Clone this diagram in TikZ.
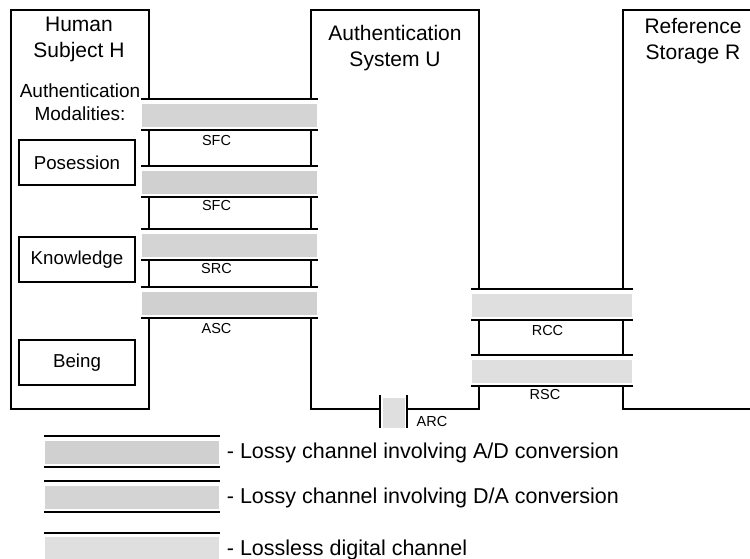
\documentclass[tikz,border=0pt]{standalone}
\usepackage{fontspec}
\setmainfont{Liberation Sans}
\usetikzlibrary{positioning}
\definecolor{adgray}{RGB}{208,208,208}
\definecolor{dagray}{RGB}{212,212,212}
\definecolor{llgray}{RGB}{223,223,223}
% channel: left end, right end, top line, fill colour
\newcommand{\channel}[4]{%
  \fill[#4] (#1+1,#3+5) rectangle (#2-1,#3+28);
  \draw (#1,#3) -- (#2,#3);
  \draw (#1,#3+31) -- (#2,#3+31);
}
\tikzset{
  headtext/.style={font=\fontsize{21}{26}\selectfont, align=center, inner sep=0pt, anchor=north},
  modtext/.style={font=\fontsize{19}{23}\selectfont, align=center, inner sep=0pt, anchor=north},
  modbox/.style={draw, minimum width=116pt, minimum height=45pt, inner sep=0pt, font=\fontsize{18.7}{22}\selectfont},
  chanlabel/.style={font=\fontsize{14.5}{17}\selectfont, inner sep=0pt},
  legendtext/.style={font=\fontsize{21.5}{25}\selectfont, inner sep=0pt, anchor=base west}
}

\begin{document}
\begin{tikzpicture}[x=1pt, y=-1pt, line width=1.8pt]
\useasboundingbox (0,0) rectangle (750,559);

% human subject H
\draw (149,99) -- (149,10) -- (11,10) -- (11,409) -- (149,409) -- (149,318);
\draw (149,130) -- (149,166);
\draw (149,197) -- (149,229);
\draw (149,260) -- (149,287);
\node[headtext] (hhead) at (79,16.5) {Human\\Subject H};
\node[modtext] (hmod) at (80,83) {Authentication\\Modalities:};
\node[modbox] (poss) at (77,162.5) {Posession};
\node[modbox] (know) at (77,259.5) {Knowledge};
\node[modbox] (being) at (77,362.5) {Being};

% authentication system U
\draw (311,99) -- (311,10) -- (479,10) -- (479,289);
\draw (311,130) -- (311,166);
\draw (311,197) -- (311,229);
\draw (311,260) -- (311,287);
\draw (479,321) -- (479,355);
\draw (311,318) -- (311,409) -- (380,409);
\draw (407,409) -- (479,409) -- (479,386);
\node[headtext] (uhead) at (395,24) {Authentication\\System U};

% reference storage R
\draw (750,10) -- (623,10) -- (623,289);
\draw (623,321) -- (623,355);
\draw (623,386) -- (623,409) -- (750,409);
\node[headtext] (rhead) at (693,17) {Reference\\Storage R};

% channels H - U
\channel{141}{318}{99}{dagray}
\channel{141}{318}{166}{adgray}
\channel{141}{318}{229}{dagray}
\channel{141}{318}{287}{adgray}
\node[chanlabel] (sfc1) at (216.5,140.5) {SFC};
\node[chanlabel] (sfc2) at (216.5,205.5) {SFC};
\node[chanlabel] (src) at (216.5,269) {SRC};
\node[chanlabel] (asc) at (216.5,329) {ASC};

% channels U - R
\channel{471}{633}{289}{llgray}
\channel{471}{633}{355}{llgray}
\node[chanlabel] (rcc) at (547.5,330.5) {RCC};
\node[chanlabel] (rsc) at (545,394.5) {RSC};

% ARC
\fill[llgray] (383,398) rectangle (405,428);
\draw (380,395) -- (380,428);
\draw (407,395) -- (407,428);
\node[chanlabel] (arc) at (432,422) {ARC};

% legend
\channel{44}{220}{436}{adgray}
\channel{44}{220}{481}{dagray}
\fill[llgray] (45,537) rectangle (219,559);
\draw (44,533) -- (220,533);
\node[legendtext] (lad) at (226,458) {- Lossy channel involving A/D conversion};
\node[legendtext] (lda) at (226,503) {- Lossy channel involving D/A conversion};
\node[legendtext] (lll) at (226,555) {- Lossless digital channel};
\end{tikzpicture}
\end{document}
